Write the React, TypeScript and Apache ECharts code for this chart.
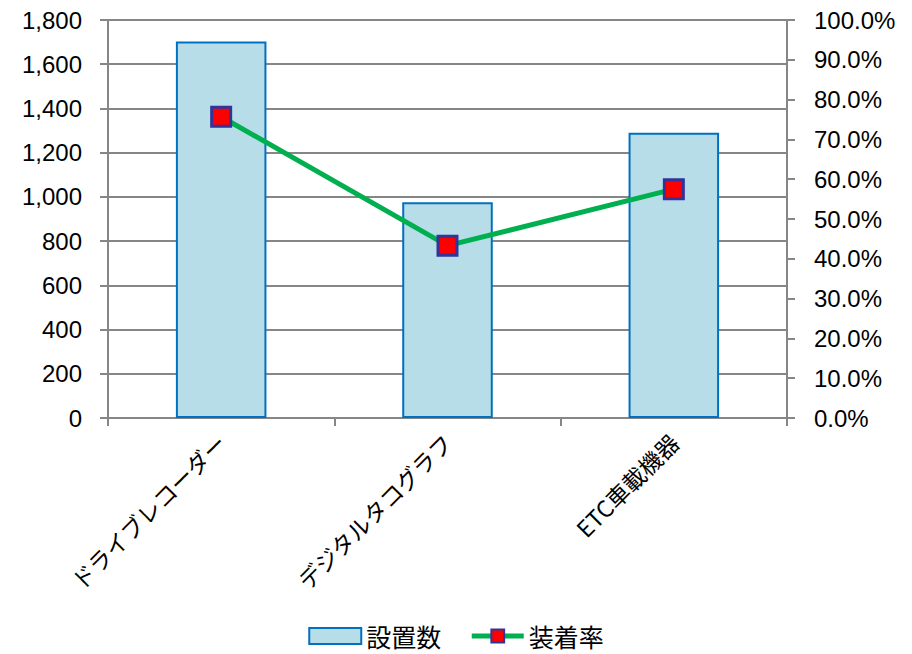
import React, { useEffect, useRef } from "react";
import * as echarts from "echarts";

const categories = ["ドライブレコーダー", "デジタルタコグラフ", "ETC車載機器"];
const installCounts = [1703, 976, 1290];
const installRates = [75.7, 43.3, 57.5];
const leftTicks = { min: 0, max: 1800, interval: 200 };
const rightTicks = { min: 0, max: 100, interval: 10 };

export default function App() {
  const ref = useRef<HTMLDivElement>(null);
  useEffect(() => {
    document.body.style.margin = "0";
    const chart = echarts.init(ref.current!, null, { renderer: "svg" });
    const font = "'Liberation Sans', Arial, sans-serif";
    const jp = "'Noto Sans CJK JP', sans-serif";
    const gray = "#868686";
    const axisLine = { show: true, lineStyle: { color: gray, width: 2 } };
    const tick = { show: true, length: 8, lineStyle: { color: gray, width: 2 } };
    chart.setOption({
      animation: false,
      textStyle: { fontFamily: font },
      grid: { left: 108, right: 125, top: 20, bottom: 236, containLabel: false },
      legend: {
        top: 620,
        left: "center",
        itemWidth: 52,
        itemHeight: 16,
        itemGap: 28,
        padding: 2,
        textStyle: { fontSize: 25, color: "#000", fontFamily: jp, lineHeight: 28 },
        data: [
          { name: "設置数", icon: "rect" },
          { name: "装着率", lineStyle: { color: "#00B050", width: 5 } },
        ],
      },
      xAxis: {
        type: "category",
        data: categories,
        axisLine,
        axisTick: { ...tick, alignWithLabel: false },
        axisLabel: {
          rotate: 45,
          fontSize: 23,
          color: "#000",
          margin: 20,
          interval: 0,
          fontFamily: jp,
        },
      },
      yAxis: [
        {
          type: "value",
          ...leftTicks,
          axisLine,
          axisTick: tick,
          splitLine: { show: true, lineStyle: { color: gray, width: 2 } },
          axisLabel: {
            fontSize: 24,
            color: "#000",
            margin: 26,
            fontFamily: font,
            formatter: (v: number) => v.toLocaleString("en-US"),
          },
        },
        {
          type: "value",
          ...rightTicks,
          position: "right",
          axisLine,
          axisTick: tick,
          splitLine: { show: false },
          axisLabel: {
            fontSize: 24,
            color: "#000",
            margin: 27,
            fontFamily: font,
            formatter: (v: number) => v.toFixed(1) + "%",
          },
        },
      ],
      series: [
        {
          name: "設置数",
          type: "bar",
          data: installCounts,
          barWidth: "40%",
          itemStyle: { color: "#B7DEE8", borderColor: "#0070C0", borderWidth: 2 },
        },
        {
          name: "装着率",
          type: "line",
          yAxisIndex: 1,
          data: installRates,
          symbol: "rect",
          symbolSize: 19,
          lineStyle: { color: "#00B050", width: 5 },
          itemStyle: { color: "#FF0000", borderColor: "#333399", borderWidth: 3 },
        },
      ],
    });
    return () => chart.dispose();
  }, []);
  return <div ref={ref} style={{ width: 912, height: 654 }} />;
}
